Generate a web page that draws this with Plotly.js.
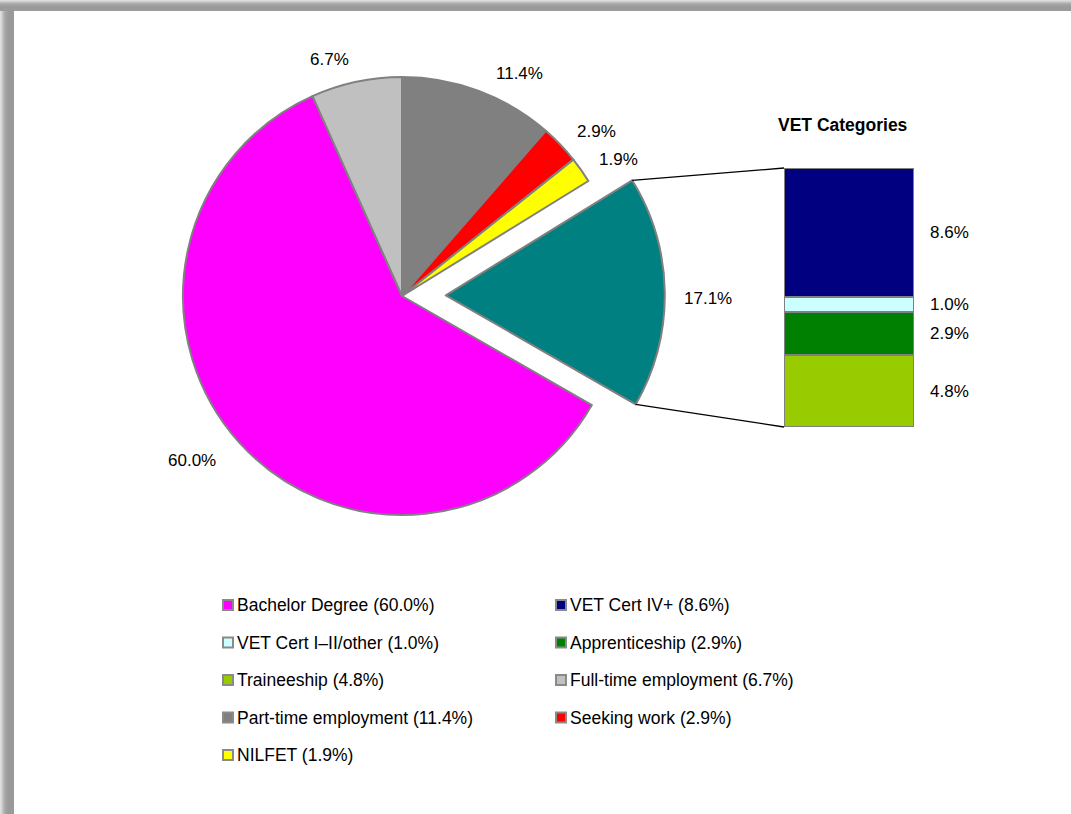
<!DOCTYPE html>
<html><head><meta charset="utf-8">
<script src="https://cdn.plot.ly/plotly-3.0.1.min.js"></script>
<style>
html,body{margin:0;padding:0;background:#fff;width:1071px;height:814px;overflow:hidden;}
#leftb{position:absolute;left:0;top:0;width:14px;height:814px;background:linear-gradient(to right,#e6e6e6 0px,#a6a6a6 5px,#999 9px,#9a9a9a 14px);}
#topb{position:absolute;left:0;top:0;width:1071px;height:11px;background:linear-gradient(to bottom,#e6e6e6 0px,#a6a6a6 4px,#999 7px,#9c9c9c 11px);}
#chart{position:absolute;left:0;top:0;width:1071px;height:814px;}
</style></head><body>
<div id="leftb"></div><div id="topb"></div><div id="chart"></div>
<script>
// ---- data ----
const pieLabels = ['Part-time employment', 'Seeking work', 'NILFET', 'VET', 'Bachelor Degree', 'Full-time employment'];
const pieValues = [11.4, 2.9, 1.9, 17.1, 60.0, 6.7];
const pieColors = ['#808080', '#FF0000', '#FFFF00', '#008080', '#FF00FF', '#C0C0C0'];
const piePull = [0, 0, 0, 0.2, 0, 0];

const vetLabels = ['Traineeship', 'Apprenticeship', 'VET Cert I\u2013II/other', 'VET Cert IV+'];
const vetValues = [4.8, 2.9, 1.0, 8.6];
const vetColors = ['#99CC00', '#008000', '#CCFFFF', '#000080'];

const legendOrder = ['Bachelor Degree', 'VET Cert IV+', 'VET Cert I\u2013II/other', 'Apprenticeship',
  'Traineeship', 'Full-time employment', 'Part-time employment', 'Seeking work', 'NILFET'];

// ---- layout geometry (styles / positions) ----
const W = 1071, H = 814;
const pieCx = 402, pieCy = 296, pieR = 219;
const labelAngleShift = [7.2, 3.5, 3.0, 1.5, 4.1, -5.1];
const labelRadius = [1.15, 1.166, 1.169, 1.197, 1.217, 1.128];
const barPx = {x0: 784, x1: 914, y0: 168, y1: 427};
const legendPx = {x: 228, y: 605, colW: 333, rowH: 37.5, box: 10};
const FONT = 'Liberation Sans, Arial, sans-serif';

const px = x => x / W, py = y => 1 - y / H;
const maxPull = Math.max(...piePull);
const half = pieR * (1 + maxPull);
const rad = d => d * Math.PI / 180;

const total = pieValues.reduce((a, b) => a + b, 0);
let cum = 0;
const slices = pieValues.map((v, i) => {
  const a0 = cum / total * 360; cum += v; const a1 = cum / total * 360;
  const mid = (a0 + a1) / 2;
  const pr = piePull[i] * pieR;
  const cx = pieCx + pr * Math.sin(rad(mid)), cy = pieCy - pr * Math.cos(rad(mid));
  return {a0, a1, mid, cx, cy};
});

const traces = [];
traces.push({
  type: 'pie', labels: pieLabels, values: pieValues, sort: false, direction: 'clockwise', rotation: 0,
  pull: piePull, marker: {colors: pieColors, line: {color: '#808080', width: 2}},
  textinfo: 'none', hoverinfo: 'label+value', showlegend: false,
  domain: {x: [px(pieCx - half), px(pieCx + half)], y: [py(pieCy + half), py(pieCy - half)]}
});
vetValues.forEach((v, i) => {
  traces.push({
    type: 'bar', x: [0], y: [v], name: vetLabels[i], width: 1,
    marker: {color: vetColors[i], line: {color: '#808080', width: 2}},
    xaxis: 'x', yaxis: 'y', showlegend: false, hoverinfo: 'name+y'
  });
});

const annotations = [];
const shapes = [];

// pie labels
slices.forEach((s, i) => {
  const ang = rad(s.mid + labelAngleShift[i]);
  const d = pieR * labelRadius[i];
  annotations.push({
    xref: 'paper', yref: 'paper', x: px(s.cx + d * Math.sin(ang)), y: py(s.cy - d * Math.cos(ang)),
    xanchor: 'center', yanchor: 'middle', showarrow: false,
    text: pieValues[i].toFixed(1) + '%', font: {family: FONT, size: 17, color: '#000'}
  });
});

// bar labels
const vetTotal = vetValues.reduce((a, b) => a + b, 0);
let vc = 0;
vetValues.forEach((v, i) => {
  annotations.push({
    xref: 'x', yref: 'y', x: 0.5, y: vc + v / 2, xanchor: 'left', yanchor: 'middle', xshift: 14,
    showarrow: false, text: v.toFixed(1) + '%', font: {family: FONT, size: 17, color: '#000'}
  });
  vc += v;
});
annotations.push({
  xref: 'x', yref: 'y domain', x: 0, y: 1, yshift: 43, xshift: -6, xanchor: 'center', yanchor: 'middle',
  showarrow: false, text: '<b>VET Categories</b>', font: {family: FONT, size: 17.5, color: '#000'}
});

// connector lines from exploded VET slice to bar
const vi = pieLabels.indexOf('VET');
const vs = slices[vi];
const c0 = [vs.cx + pieR * Math.sin(rad(vs.a0)), vs.cy - pieR * Math.cos(rad(vs.a0))];
const c1 = [vs.cx + pieR * Math.sin(rad(vs.a1)), vs.cy - pieR * Math.cos(rad(vs.a1))];
shapes.push({type: 'line', xref: 'paper', yref: 'paper', x0: px(c0[0]), y0: py(c0[1]), x1: px(barPx.x0), y1: py(barPx.y0), line: {color: '#000', width: 1.3}});
shapes.push({type: 'line', xref: 'paper', yref: 'paper', x0: px(c1[0]), y0: py(c1[1]), x1: px(barPx.x0), y1: py(barPx.y1), line: {color: '#000', width: 1.3}});

// manual legend
legendOrder.forEach((name, i) => {
  let val, col;
  const pi = pieLabels.indexOf(name);
  if (pi >= 0) { val = pieValues[pi]; col = pieColors[pi]; }
  else { const k = vetLabels.indexOf(name); val = vetValues[k]; col = vetColors[k]; }
  const c = i % 2, r = Math.floor(i / 2);
  const mx = legendPx.x + c * legendPx.colW, my = legendPx.y + r * legendPx.rowH, b = legendPx.box / 2;
  shapes.push({type: 'rect', xref: 'paper', yref: 'paper', x0: px(mx - b), x1: px(mx + b), y0: py(my + b), y1: py(my - b),
    fillcolor: col, line: {color: '#8a8a8a', width: 2}});
  annotations.push({
    xref: 'paper', yref: 'paper', x: px(mx + b + 2), y: py(my), xanchor: 'left', yanchor: 'middle',
    showarrow: false, text: name + ' (' + val.toFixed(1) + '%)', font: {family: FONT, size: 17.5, color: '#000'}
  });
});

const layout = {
  width: W, height: H, margin: {l: 0, r: 0, t: 0, b: 0},
  paper_bgcolor: 'rgba(0,0,0,0)', plot_bgcolor: 'rgba(0,0,0,0)',
  barmode: 'stack', bargap: 0, showlegend: false,
  xaxis: {domain: [px(barPx.x0), px(barPx.x1)], range: [-0.5, 0.5], visible: false, fixedrange: true},
  yaxis: {domain: [py(barPx.y1), py(barPx.y0)], range: [0, vetTotal], visible: false, fixedrange: true},
  annotations, shapes, font: {family: FONT}
};
Plotly.newPlot('chart', traces, layout, {displayModeBar: false, staticPlot: true});
</script>
</body></html>
